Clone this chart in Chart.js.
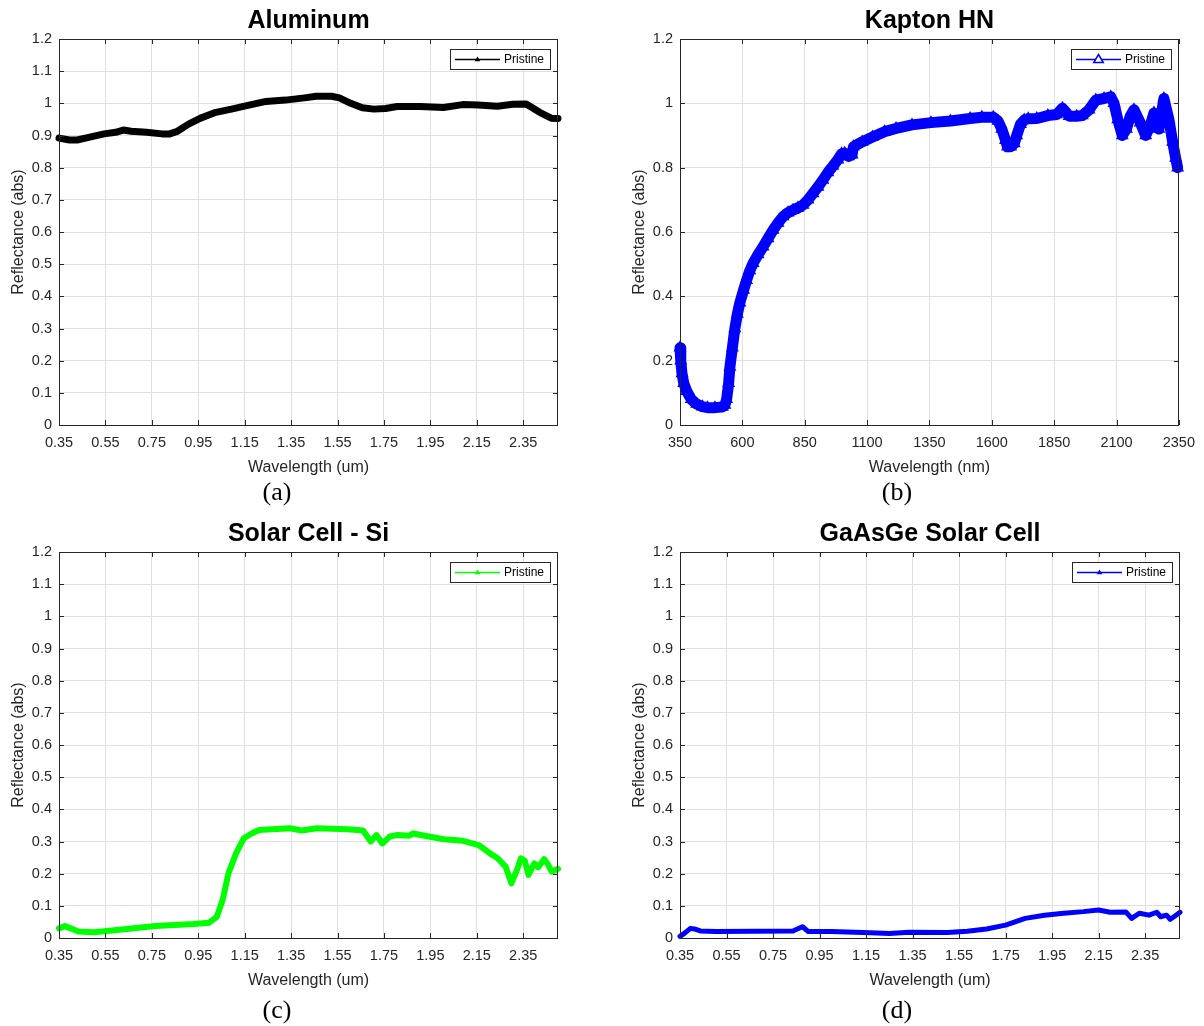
<!DOCTYPE html>
<html>
<head>
<meta charset="utf-8">
<script src="https://cdn.jsdelivr.net/npm/chart.js"></script>
<style>
  body {
    margin: 0;
    width: 1204px;
    height: 1026px;
    position: relative;
    overflow: hidden;
    background: #fff;
  }
  .panel { position: absolute; }
  .caption {
    position: absolute;
    width: 80px;
    margin-left: -40px;
    text-align: center;
    font-family: 'Liberation Serif', 'Times New Roman', serif;
    font-size: 26px;
    line-height: 30px;
    color: #000;
  }
</style>
</head>
<body>

  <canvas id="chartAl" class="panel" style="left:0;top:0" width="602" height="513"></canvas>
  <canvas id="chartKapton" class="panel" style="left:621px;top:0" width="583" height="513"></canvas>
  <canvas id="chartSi" class="panel" style="left:0;top:513px" width="602" height="513"></canvas>
  <canvas id="chartGaAs" class="panel" style="left:621px;top:513px" width="583" height="513"></canvas>

  <div class="caption" style="left:277px;top:477px">(a)</div>
  <div class="caption" style="left:897px;top:477px">(b)</div>
  <div class="caption" style="left:277px;top:995px">(c)</div>
  <div class="caption" style="left:897px;top:995px">(d)</div>

  <script>
    // tick positions and labels
    const umTicks = [0.35, 0.55, 0.75, 0.95, 1.15, 1.35, 1.55, 1.75, 1.95, 2.15, 2.35];
    const umTickLabels = ['0.35', '0.55', '0.75', '0.95', '1.15', '1.35', '1.55', '1.75', '1.95', '2.15', '2.35'];
    const nmTicks = [350, 600, 850, 1100, 1350, 1600, 1850, 2100, 2350];
    const nmTickLabels = ['350', '600', '850', '1100', '1350', '1600', '1850', '2100', '2350'];
    const yTicksFine = [0, 0.1, 0.2, 0.3, 0.4, 0.5, 0.6, 0.7, 0.8, 0.9, 1, 1.1, 1.2];
    const yLabelsFine = ['0', '0.1', '0.2', '0.3', '0.4', '0.5', '0.6', '0.7', '0.8', '0.9', '1', '1.1', '1.2'];
    const yTicksCoarse = [0, 0.2, 0.4, 0.6, 0.8, 1, 1.2];
    const yLabelsCoarse = ['0', '0.2', '0.4', '0.6', '0.8', '1', '1.2'];

    // (a) Aluminum
    const alWavelength = [0.35, 0.395, 0.428, 0.478, 0.544, 0.594, 0.627, 0.661, 0.727, 0.794, 0.827, 0.86, 0.91, 0.96, 1.026, 1.093, 1.159, 1.242, 1.325, 1.408, 1.458, 1.524, 1.558, 1.607, 1.657, 1.707, 1.757, 1.807, 1.906, 2.006, 2.089, 2.156, 2.239, 2.305, 2.363, 2.421, 2.471, 2.5];
    const alReflectance = [0.892, 0.886, 0.886, 0.894, 0.905, 0.91, 0.917, 0.913, 0.91, 0.905, 0.905, 0.913, 0.936, 0.954, 0.972, 0.982, 0.993, 1.006, 1.01, 1.017, 1.022, 1.022, 1.017, 1.0, 0.986, 0.982, 0.984, 0.99, 0.99, 0.987, 0.996, 0.995, 0.991, 0.997, 0.998, 0.972, 0.954, 0.953];

    // (b) Kapton HN
    const kaptonWavelength = [350, 353, 358, 365, 377, 395, 417, 440, 460, 490, 520, 530, 537, 545, 550, 560, 570, 580, 590, 605, 617, 630, 643, 663, 683, 703, 723, 743, 763, 783, 803, 823, 843, 863, 883, 903, 923, 943, 963, 983, 998, 1010, 1025, 1040, 1045, 1080, 1122, 1170, 1216, 1280, 1356, 1434, 1513, 1560, 1606, 1625, 1640, 1655, 1663, 1676, 1690, 1700, 1715, 1730, 1746, 1780, 1825, 1860, 1883, 1895, 1910, 1940, 1963, 1990, 2017, 2050, 2077, 2090, 2105, 2123, 2140, 2155, 2170, 2195, 2217, 2235, 2250, 2270, 2290, 2310, 2325, 2337, 2345];
    const kaptonReflectance = [0.24, 0.2, 0.16, 0.13, 0.105, 0.08, 0.065, 0.057, 0.054, 0.054, 0.056, 0.062, 0.08, 0.13, 0.18, 0.24, 0.3, 0.345, 0.38, 0.42, 0.45, 0.48, 0.503, 0.53, 0.554, 0.58, 0.606, 0.628, 0.648, 0.66, 0.668, 0.675, 0.684, 0.7, 0.72, 0.74, 0.762, 0.785, 0.805, 0.825, 0.843, 0.845, 0.835, 0.84, 0.865, 0.88, 0.895, 0.912, 0.922, 0.933, 0.94, 0.945, 0.953, 0.957, 0.957, 0.945, 0.92, 0.885, 0.865, 0.865, 0.875, 0.9, 0.935, 0.948, 0.952, 0.953, 0.962, 0.965, 0.985, 0.975, 0.96, 0.96, 0.962, 0.98, 1.01, 1.015, 1.02, 1.0, 0.95, 0.9, 0.92, 0.96, 0.98, 0.94, 0.9, 0.93, 0.97, 0.92, 1.015, 0.95, 0.88, 0.83, 0.8];

    // (c) Solar Cell - Si
    const siWavelength = [0.35, 0.375, 0.4, 0.433, 0.5, 0.6, 0.765, 0.93, 0.997, 1.03, 1.055, 1.08, 1.113, 1.146, 1.18, 1.212, 1.345, 1.395, 1.461, 1.594, 1.66, 1.693, 1.718, 1.743, 1.776, 1.809, 1.859, 1.876, 1.925, 2.008, 2.091, 2.158, 2.207, 2.24, 2.274, 2.299, 2.323, 2.34, 2.357, 2.373, 2.398, 2.415, 2.44, 2.456, 2.473, 2.5];
    const siReflectance = [0.03, 0.037, 0.03, 0.02, 0.018, 0.025, 0.037, 0.0435, 0.0476, 0.066, 0.118, 0.201, 0.263, 0.31, 0.325, 0.336, 0.341, 0.334, 0.341, 0.338, 0.334, 0.3, 0.32, 0.294, 0.316, 0.32, 0.318, 0.325, 0.318, 0.307, 0.302, 0.289, 0.263, 0.248, 0.222, 0.17, 0.211, 0.248, 0.24, 0.196, 0.232, 0.22, 0.245, 0.23, 0.206, 0.215];

    // (d) GaAsGe Solar Cell
    const gaasWavelength = [0.35, 0.37, 0.395, 0.412, 0.437, 0.503, 0.67, 0.836, 0.852, 0.877, 0.902, 1.002, 1.169, 1.25, 1.335, 1.5, 1.585, 1.668, 1.75, 1.834, 1.917, 2.0, 2.084, 2.15, 2.2, 2.267, 2.292, 2.325, 2.367, 2.4, 2.417, 2.442, 2.458, 2.483, 2.5];
    const gaasReflectance = [0.005, 0.015, 0.03, 0.028, 0.022, 0.02, 0.021, 0.022, 0.027, 0.035, 0.02, 0.02, 0.016, 0.014, 0.018, 0.017, 0.021, 0.028, 0.04, 0.061, 0.071, 0.077, 0.082, 0.087, 0.08, 0.081, 0.061, 0.077, 0.071, 0.08, 0.066, 0.071, 0.058, 0.071, 0.08];

    Chart.defaults.font.family = "'Liberation Sans', Arial, sans-serif";
    Chart.defaults.color = '#262626';

    // box, inward ticks, title and legend drawn the MATLAB way
    const matlabAxes = {
      id: 'matlabAxes',
      afterDraw(chart, args, opts) {
        const { ctx, chartArea: a } = chart;
        const xs = chart.scales.x, ys = chart.scales.y;
        ctx.save();

        ctx.strokeStyle = '#262626';
        ctx.lineWidth = 1;
        ctx.beginPath();
        xs.ticks.forEach(t => {
          const px = Math.round(xs.getPixelForValue(t.value)) + 0.5;
          ctx.moveTo(px, a.bottom); ctx.lineTo(px, a.bottom - 5);
          ctx.moveTo(px, a.top); ctx.lineTo(px, a.top + 5);
        });
        ys.ticks.forEach(t => {
          const py = Math.round(ys.getPixelForValue(t.value)) + 0.5;
          ctx.moveTo(a.left, py); ctx.lineTo(a.left + 5, py);
          ctx.moveTo(a.right, py); ctx.lineTo(a.right - 5, py);
        });
        ctx.stroke();
        ctx.strokeRect(Math.round(a.left) + 0.5, Math.round(a.top) + 0.5,
                       Math.round(a.width) - 1, Math.round(a.height));

        // title
        ctx.fillStyle = '#000';
        ctx.font = "bold 25px 'Liberation Sans', Arial, sans-serif";
        ctx.textAlign = 'center';
        ctx.textBaseline = 'middle';
        ctx.fillText(opts.title, (a.left + a.right) / 2, 21);

        // legend
        const ds = chart.data.datasets[0];
        const w = 100, h = 20;
        const bx = Math.round(a.right - 8 - w), by = Math.round(a.top + 10);
        ctx.fillStyle = '#fff';
        ctx.fillRect(bx, by, w, h);
        ctx.strokeStyle = '#262626';
        ctx.strokeRect(bx + 0.5, by + 0.5, w, h);
        const my = by + h / 2 + 0.5;
        ctx.strokeStyle = ds.borderColor;
        ctx.lineWidth = 1.5;
        ctx.beginPath();
        ctx.moveTo(bx + 5, my); ctx.lineTo(bx + 50, my);
        ctx.stroke();
        const mx = bx + 27.5, r = opts.openMarker ? 5 : 3;
        ctx.beginPath();
        ctx.moveTo(mx, my - r);
        ctx.lineTo(mx + r * 0.95, my + r * 0.6);
        ctx.lineTo(mx - r * 0.95, my + r * 0.6);
        ctx.closePath();
        if (opts.openMarker) {
          ctx.fillStyle = '#fff';
          ctx.fill();
          ctx.stroke();
        } else {
          ctx.fillStyle = ds.borderColor;
          ctx.fill();
        }
        ctx.fillStyle = '#000';
        ctx.font = "12px 'Liberation Sans', Arial, sans-serif";
        ctx.textAlign = 'left';
        ctx.fillText('Pristine', bx + 54, my);

        ctx.restore();
      }
    };

    function makeChart(id, cfg) {
      return new Chart(document.getElementById(id), {
        type: 'line',
        data: {
          datasets: [{
            label: 'Pristine',
            data: cfg.xs.map((v, i) => ({ x: v, y: cfg.ys[i] })),
            borderColor: cfg.color,
            borderWidth: cfg.lineWidth,
            borderJoinStyle: 'round',
            borderCapStyle: 'round',
            pointStyle: 'triangle',
            pointRadius: cfg.marker,
            pointBorderWidth: 1.5,
            pointBorderColor: cfg.color,
            pointBackgroundColor: 'rgba(0,0,0,0)',
            clip: false
          }]
        },
        options: {
          responsive: false,
          animation: false,
          events: [],
          layout: { padding: { top: 39, right: cfg.padRight, bottom: 36, left: 0 } },
          plugins: {
            legend: { display: false },
            tooltip: { enabled: false },
            matlabAxes: { title: cfg.title, openMarker: cfg.marker > 0 }
          },
          scales: {
            x: {
              type: 'linear',
              min: cfg.xMin,
              max: cfg.xMax,
              afterBuildTicks: s => { s.ticks = cfg.xTicks.map(v => ({ value: v })); },
              afterFit: s => { s.height = 52; },
              ticks: {
                autoSkip: false,
                maxRotation: 0,
                padding: 9,
                font: { size: 14.5 },
                callback: (v, i) => cfg.xLabels[i]
              },
              grid: { color: '#e0e0e0', drawTicks: false },
              border: { display: false },
              title: { display: true, text: cfg.xTitle, font: { size: 16 }, padding: 0 }
            },
            y: {
              min: 0,
              max: 1.2,
              afterBuildTicks: s => { s.ticks = cfg.yTicks.map(v => ({ value: v })); },
              afterFit: s => { s.width = 59; },
              ticks: {
                autoSkip: false,
                padding: 7,
                font: { size: 14.5 },
                callback: (v, i) => cfg.yLabels[i]
              },
              grid: { color: '#e0e0e0', drawTicks: false },
              border: { display: false },
              title: { display: true, text: 'Reflectance (abs)', font: { size: 16 }, padding: { top: 9, bottom: 0 } }
            }
          }
        },
        plugins: [matlabAxes]
      });
    }

    makeChart('chartAl', {
      title: 'Aluminum', xs: alWavelength, ys: alReflectance, color: '#000000',
      lineWidth: 7, marker: 0, padRight: 44, xMin: 0.35, xMax: 2.5,
      xTicks: umTicks, xLabels: umTickLabels, xTitle: 'Wavelength (um)',
      yTicks: yTicksFine, yLabels: yLabelsFine
    });

    makeChart('chartKapton', {
      title: 'Kapton HN', xs: kaptonWavelength, ys: kaptonReflectance, color: '#0000ff',
      lineWidth: 11, marker: 6, padRight: 24, xMin: 350, xMax: 2350,
      xTicks: nmTicks, xLabels: nmTickLabels, xTitle: 'Wavelength (nm)',
      yTicks: yTicksCoarse, yLabels: yLabelsCoarse
    });

    makeChart('chartSi', {
      title: 'Solar Cell - Si', xs: siWavelength, ys: siReflectance, color: '#00ff00',
      lineWidth: 6, marker: 0, padRight: 44, xMin: 0.35, xMax: 2.5,
      xTicks: umTicks, xLabels: umTickLabels, xTitle: 'Wavelength (um)',
      yTicks: yTicksFine, yLabels: yLabelsFine
    });

    makeChart('chartGaAs', {
      title: 'GaAsGe Solar Cell', xs: gaasWavelength, ys: gaasReflectance, color: '#0000ff',
      lineWidth: 5, marker: 0, padRight: 24, xMin: 0.35, xMax: 2.5,
      xTicks: umTicks, xLabels: umTickLabels, xTitle: 'Wavelength (um)',
      yTicks: yTicksFine, yLabels: yLabelsFine
    });
  </script>

</body>
</html>
